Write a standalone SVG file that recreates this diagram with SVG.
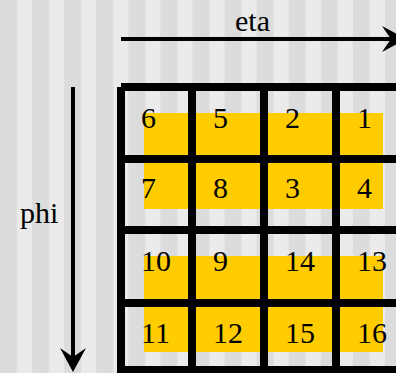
<svg xmlns="http://www.w3.org/2000/svg" width="396" height="373" viewBox="0 0 396 373">
  <style>
    .grid line { stroke: #000; stroke-width: 8; stroke-linecap: butt; }
    .axis { stroke: #000; stroke-width: 4; fill: none; marker-end: url(#head); }
    .band { fill: #ffcc00; }
    text { font-family: "Liberation Serif", "Times New Roman", serif; font-size: 30px; fill: #000; }
  </style>
  <defs>
    <!-- alternating vertical stripes -->
    <pattern id="stripes" patternUnits="userSpaceOnUse" x="0" y="0" width="32.08" height="373">
      <rect x="0" y="0" width="32.08" height="373" fill="#ebebeb"/>
      <rect x="0" y="0" width="17" height="373" fill="#dcdcdc"/>
    </pattern>
    <!-- notched arrowhead; origin sits at the notch -->
    <marker id="head" markerUnits="userSpaceOnUse" viewBox="-10 -14 26 28" markerWidth="26" markerHeight="28" refX="0" refY="0" orient="auto" overflow="visible">
      <path d="M-9,-13 L15,0 L-9,13 L0,0 Z" fill="#000"/>
    </marker>
  </defs>

  <rect x="0" y="0" width="396" height="373" fill="url(#stripes)"/>

  <!-- highlighted bands behind the cells -->
  <g id="bands">
    <rect class="band" x="144" y="113" width="239" height="96"/>
    <rect class="band" x="144" y="256" width="239" height="96"/>
  </g>

  <!-- cell grid -->
  <g id="grid" class="grid">
    <line x1="121" y1="87" x2="410" y2="87"/>
    <line x1="121" y1="159" x2="410" y2="159"/>
    <line x1="121" y1="230" x2="410" y2="230"/>
    <line x1="121" y1="303" x2="410" y2="303"/>
    <line x1="121" y1="370" x2="410" y2="370"/>
    <line x1="121" y1="87" x2="121" y2="380"/>
    <line x1="192" y1="87" x2="192" y2="380"/>
    <line x1="264" y1="87" x2="264" y2="380"/>
    <line x1="336" y1="87" x2="336" y2="380"/>
  </g>

  <!-- cell numbers -->
  <g id="cell-6"><text x="141" y="128">6</text></g>
  <g id="cell-5"><text x="213" y="128">5</text></g>
  <g id="cell-2"><text x="285" y="128">2</text></g>
  <g id="cell-1"><text x="357" y="128">1</text></g>

  <g id="cell-7"><text x="141" y="198">7</text></g>
  <g id="cell-8"><text x="213" y="198">8</text></g>
  <g id="cell-3"><text x="285" y="198">3</text></g>
  <g id="cell-4"><text x="357" y="198">4</text></g>

  <g id="cell-10"><text x="141" y="271">10</text></g>
  <g id="cell-9"><text x="213" y="271">9</text></g>
  <g id="cell-14"><text x="285" y="271">14</text></g>
  <g id="cell-13"><text x="357" y="271">13</text></g>

  <g id="cell-11"><text x="141" y="343">11</text></g>
  <g id="cell-12"><text x="213" y="343">12</text></g>
  <g id="cell-15"><text x="285" y="343">15</text></g>
  <g id="cell-16"><text x="357" y="343">16</text></g>

  <!-- axis arrows -->
  <g id="connectors">
    <line class="axis" x1="121" y1="39" x2="391" y2="39"/>
    <line class="axis" x1="73" y1="87" x2="73" y2="357"/>
  </g>

  <g id="label-eta"><text x="235" y="31">eta</text></g>
  <g id="label-phi"><text x="20" y="223">phi</text></g>
</svg>
